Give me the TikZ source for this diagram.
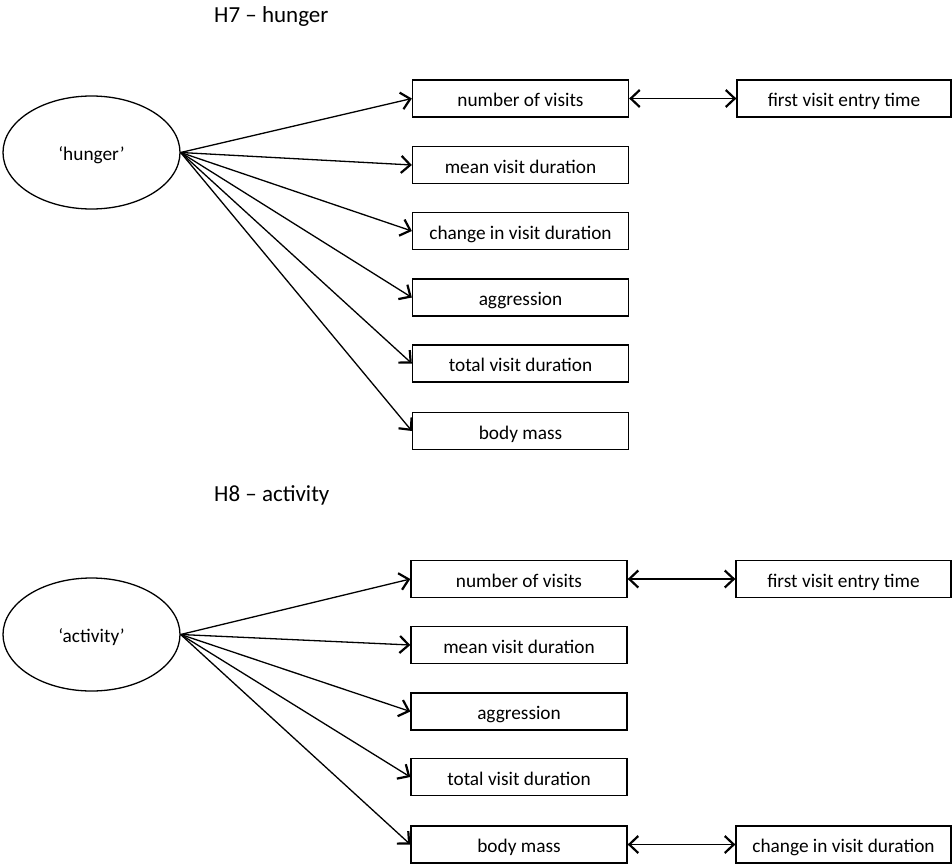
\documentclass[tikz,border=0pt]{standalone}
\usepackage{fontspec}
\setmainfont{Carlito}
\usetikzlibrary{arrows.meta,shapes.geometric}
\tikzset{
  var/.style={draw, line width=1.3pt, minimum width=216pt, minimum height=37pt,
    inner sep=0pt, font=\fontsize{19.3}{22}\selectfont, text height=17pt, text depth=1pt},
  latent/.style={draw, ellipse, line width=1.3pt, minimum width=177pt, minimum height=113pt,
    inner sep=0pt, font=\fontsize{19.3}{22}\selectfont, text height=17pt, text depth=1pt},
  heading/.style={anchor=base west, inner sep=0pt, font=\fontsize{23}{26}\selectfont},
  barb/.tip={Straight Barb[length=9pt,width=17pt,line width=2.2pt]},
  path/.style={line width=1.3pt, -barb},
  link/.style={line width=1.3pt, barb-barb}
}
\begin{document}
\begin{tikzpicture}[x=1pt,y=-1pt]
\useasboundingbox (0,0) rectangle (952,864);

% H7: hunger
\node[heading] (t7) at (214,23) {H7 – hunger};
\node[latent] (hun) at (91.5,152.5) {‘hunger’};
\node[var] (h1) at (520.5,98.5) {number of visits};
\node[var] (h2) at (520.5,165) {mean visit duration};
\node[var] (h3) at (520.5,231) {change in visit duration};
\node[var] (h4) at (520.5,297.5) {aggression};
\node[var] (h5) at (520.5,363.5) {total visit duration};
\node[var] (h6) at (520.5,431) {body mass};
\node[var, minimum width=214pt] (h7) at (844,98.5) {first visit entry time};
\foreach \b in {h1,h2,h3,h4,h5,h6}
  \draw[path] (hun.east) -- (\b.west);
\draw[link] (h1.east) -- (h7.west);

% H8: activity
\node[heading] (t8) at (214,501) {H8 – activity};
\node[latent] (act) at (91.5,634.5) {‘activity’};
\node[var] (a1) at (519,579) {number of visits};
\node[var] (a2) at (519,645) {mean visit duration};
\node[var] (a3) at (519,711.5) {aggression};
\node[var] (a4) at (519,777) {total visit duration};
\node[var] (a5) at (519,844.5) {body mass};
\node[var, minimum width=215pt] (a6) at (843.5,579) {first visit entry time};
\node[var, minimum width=215pt] (a7) at (843.5,844.5) {change in visit duration};
\foreach \b in {a1,a2,a3,a4,a5}
  \draw[path] (act.east) -- (\b.west);
\draw[link] (a1.east) -- (a6.west);
\draw[link] (a5.east) -- (a7.west);
\end{tikzpicture}
\end{document}
